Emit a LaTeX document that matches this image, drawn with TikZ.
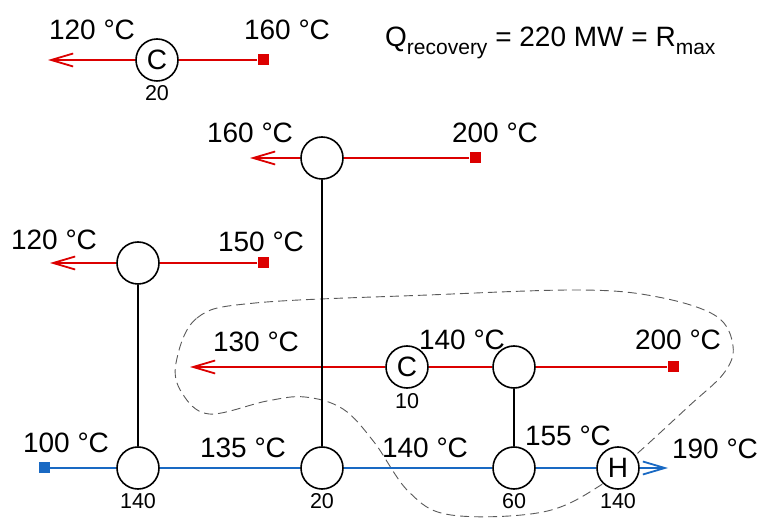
\documentclass[tikz,border=0pt]{standalone}
\usepackage{fontspec}
\setmainfont{Liberation Sans}
\usetikzlibrary{arrows.meta}
\definecolor{hot}{RGB}{220,0,0}
\definecolor{cold}{RGB}{25,105,195}
\begin{document}
\begin{tikzpicture}[x=1pt,y=-1pt,
  hx/.style={circle, draw=black, line width=1.6pt, fill=white, minimum size=42pt, inner sep=0pt, font=\fontsize{28}{28}\selectfont},
  lbl/.style={font=\fontsize{28}{28}\selectfont, inner sep=0pt},
  num/.style={font=\fontsize{21.5}{21.5}\selectfont, inner sep=0pt},
  hotline/.style={draw=hot, line width=1.8pt, -{Straight Barb[length=22pt,width=13pt]}},
  coldline/.style={draw=cold, line width=1.8pt, -{Straight Barb[length=22pt,width=13pt]}},
  sqh/.style={fill=hot, minimum size=11pt, inner sep=0pt},
  sqc/.style={fill=cold, minimum size=11pt, inner sep=0pt},
  link/.style={draw=black, line width=1.6pt},
  region/.style={draw=black!65, line width=0.9pt, dash pattern=on 9pt off 5pt}
]
\useasboundingbox (0,0) rectangle (758,518);

% dashed region
\draw[region] plot[smooth cycle, tension=0.6] coordinates {
 (176,363) (197,318) (255,303) (428,295) (581,290) (658,297) (716,316) (733,346)
 (724,373) (689,406) (639,452) (601,485) (543,512) (451,515) (409,492) (374,442)
 (343,409) (305,397) (267,401) (209,414) (182,393)};

% Row 1
\node[sqh] (s1) at (263,60) {};
\coordinate (t1) at (48,60);
\node[hx] (h1) at (157,60) {C};
\draw[hotline] (s1) -- (h1) -- (t1);
\node[lbl] (l1a) at (92,30) {120 °C};
\node[lbl] (l1b) at (287,30) {160 °C};
\node[num] (n1) at (157,93) {20};
\node[lbl, anchor=base west] (q) at (385,47) {Q\raisebox{-0.28em}{\fontsize{21}{21}\selectfont recovery} = 220 MW = R\raisebox{-0.28em}{\fontsize{21}{21}\selectfont max}};

% Row 2
\node[sqh] (s2) at (475,158) {};
\coordinate (t2) at (250,158);
\node[hx] (h2) at (322,158) {};
\draw[hotline] (s2) -- (h2) -- (t2);
\node[lbl] (l2a) at (250,133) {160 °C};
\node[lbl] (l2b) at (495,133) {200 °C};

% Row 3
\node[sqh] (s3) at (263,263) {};
\coordinate (t3) at (50,263);
\node[hx] (h3) at (138,263) {};
\draw[hotline] (s3) -- (h3) -- (t3);
\node[lbl] (l3a) at (54,240) {120 °C};
\node[lbl] (l3b) at (261,242) {150 °C};

% Row 4
\node[sqh] (s4) at (673,367) {};
\coordinate (t4) at (190,367);
\node[hx] (h4b) at (514,367) {};
\node[hx] (h4a) at (407,367) {C};
\draw[hotline] (s4) -- (h4b) -- (h4a) -- (t4);
\node[lbl] (l4a) at (256,342) {130 °C};
\node[lbl] (l4b) at (462,340) {140 °C};
\node[lbl] (l4c) at (678,340) {200 °C};
\node[num] (n4) at (407,401) {10};

% Cold row
\node[sqc] (s5) at (44,468) {};
\coordinate (t5) at (668,468);
\node[hx] (b1) at (138,468) {};
\node[hx] (b2) at (322,468) {};
\node[hx] (b3) at (514,468) {};
\node[hx] (b4) at (618,468) {H};
\draw[coldline] (s5) -- (b1) -- (b2) -- (b3) -- (b4) -- (t5);
\node[lbl] (l5a) at (66,443) {100 °C};
\node[lbl] (l5b) at (243,448) {135 °C};
\node[lbl] (l5c) at (425,448) {140 °C};
\node[lbl] (l5d) at (568,436) {155 °C};
\node[lbl] (l5e) at (715,449) {190 °C};
\node[num] (n5a) at (138,501) {140};
\node[num] (n5b) at (322,501) {20};
\node[num] (n5c) at (514,501) {60};
\node[num] (n5d) at (618,501) {140};

% links
\draw[link] (h3) -- (b1);
\draw[link] (h2) -- (b2);
\draw[link] (h4b) -- (b3);
\end{tikzpicture}
\end{document}
